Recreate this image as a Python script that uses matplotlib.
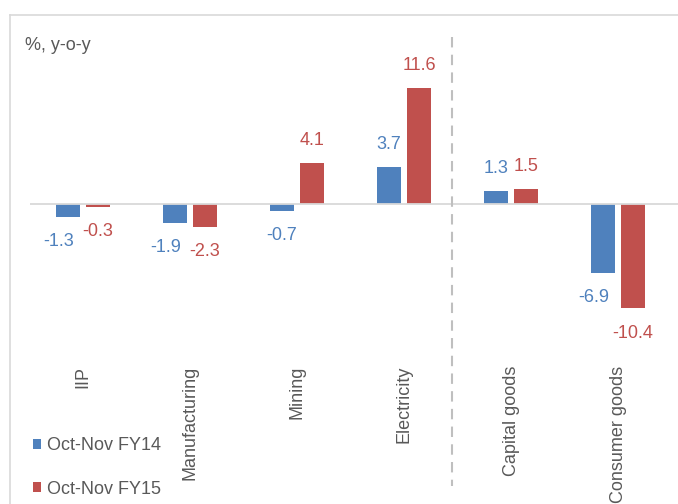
import numpy as np
import matplotlib.pyplot as plt
from matplotlib.lines import Line2D
import matplotlib.transforms as mtransforms

plt.rcParams['font.family'] = ['Liberation Sans', 'DejaVu Sans']

# data
categories = ['IIP', 'Manufacturing', 'Mining', 'Electricity', 'Capital goods', 'Consumer goods']
fy14 = [-1.3, -1.9, -0.7, 3.7, 1.3, -6.9]
fy15 = [-0.3, -2.3, 4.1, 11.6, 1.5, -10.4]
series_names = ['Oct-Nov FY14', 'Oct-Nov FY15']

blue = '#4F81BD'
red = '#C0504D'
grey_txt = '#595959'

W, H = 678, 504
fig = plt.figure(figsize=(W / 100, H / 100), dpi=100)
ax = fig.add_axes([30 / W, 1 - 330 / H, 648 / W, 300 / H])

x = np.arange(len(categories))
off = 0.14
bw = 0.224
b1 = ax.bar(x - off, fy14, bw, color=blue, label=series_names[0], zorder=2)
b2 = ax.bar(x + off, fy15, bw, color=red, label=series_names[1], zorder=2)

ax.axhline(0, color='#D9D9D9', lw=1.3, zorder=3)

# data labels outside the bar ends; blue ones nudged left when both
# bars of a pair hang below zero (as excel does to avoid overlap)
for k, (bars, vals, col) in enumerate([(b1, fy14, blue), (b2, fy15, red)]):
    for i, (rect, v) in enumerate(zip(bars, vals)):
        cx = rect.get_x() + rect.get_width() / 2
        dy = 16.5 if v >= 0 else -18
        dx = 0
        if k == 0 and v < 0 and fy15[i] < 0:
            dx = -7
        ax.annotate(f'{v:.1f}', (cx, v), xytext=(dx, dy), textcoords='offset points',
                    ha='center', va='center', color=col, fontsize=13)

ax.set_xlim(-0.4953, 5.5607)
ax.set_ylim(-12.6, 17.4)
ax.axis('off')

# category labels, rotated, below the plot
trans = mtransforms.blended_transform_factory(ax.transData, fig.transFigure)
for i, c in enumerate(categories):
    ax.text(i, 1 - 366 / H, c, rotation=90, ha='center', va='top',
            color=grey_txt, fontsize=13, transform=trans, clip_on=False)

# dashed separator between sectors and use-based groups
sep = Line2D([3.45, 3.45], [1 - 37 / H, 1 - 486 / H], transform=trans,
             color='#BFBFBF', lw=1.5, dashes=(5, 3.5))
fig.add_artist(sep)

fig.text(25 / W, 1 - 45 / H, '%, y-o-y', ha='left', va='center',
         color=grey_txt, fontsize=13)

# chart area border (cropped)
fig.add_artist(Line2D([10 / W, 10 / W], [0, 1 - 15 / H], transform=fig.transFigure,
                      color='#D9D9D9', lw=1.2))
fig.add_artist(Line2D([10 / W, 1], [1 - 15 / H, 1 - 15 / H], transform=fig.transFigure,
                      color='#D9D9D9', lw=1.2))

fig.legend(handles=[b1, b2], loc='center left', bbox_to_anchor=(33 / W, 1 - 467.5 / H),
           frameon=False, fontsize=13, handlelength=0.45, handleheight=0.45,
           handletextpad=0.35, labelspacing=1.45, borderpad=0, borderaxespad=0,
           labelcolor=grey_txt)

fig.savefig('out.png', dpi=100)
